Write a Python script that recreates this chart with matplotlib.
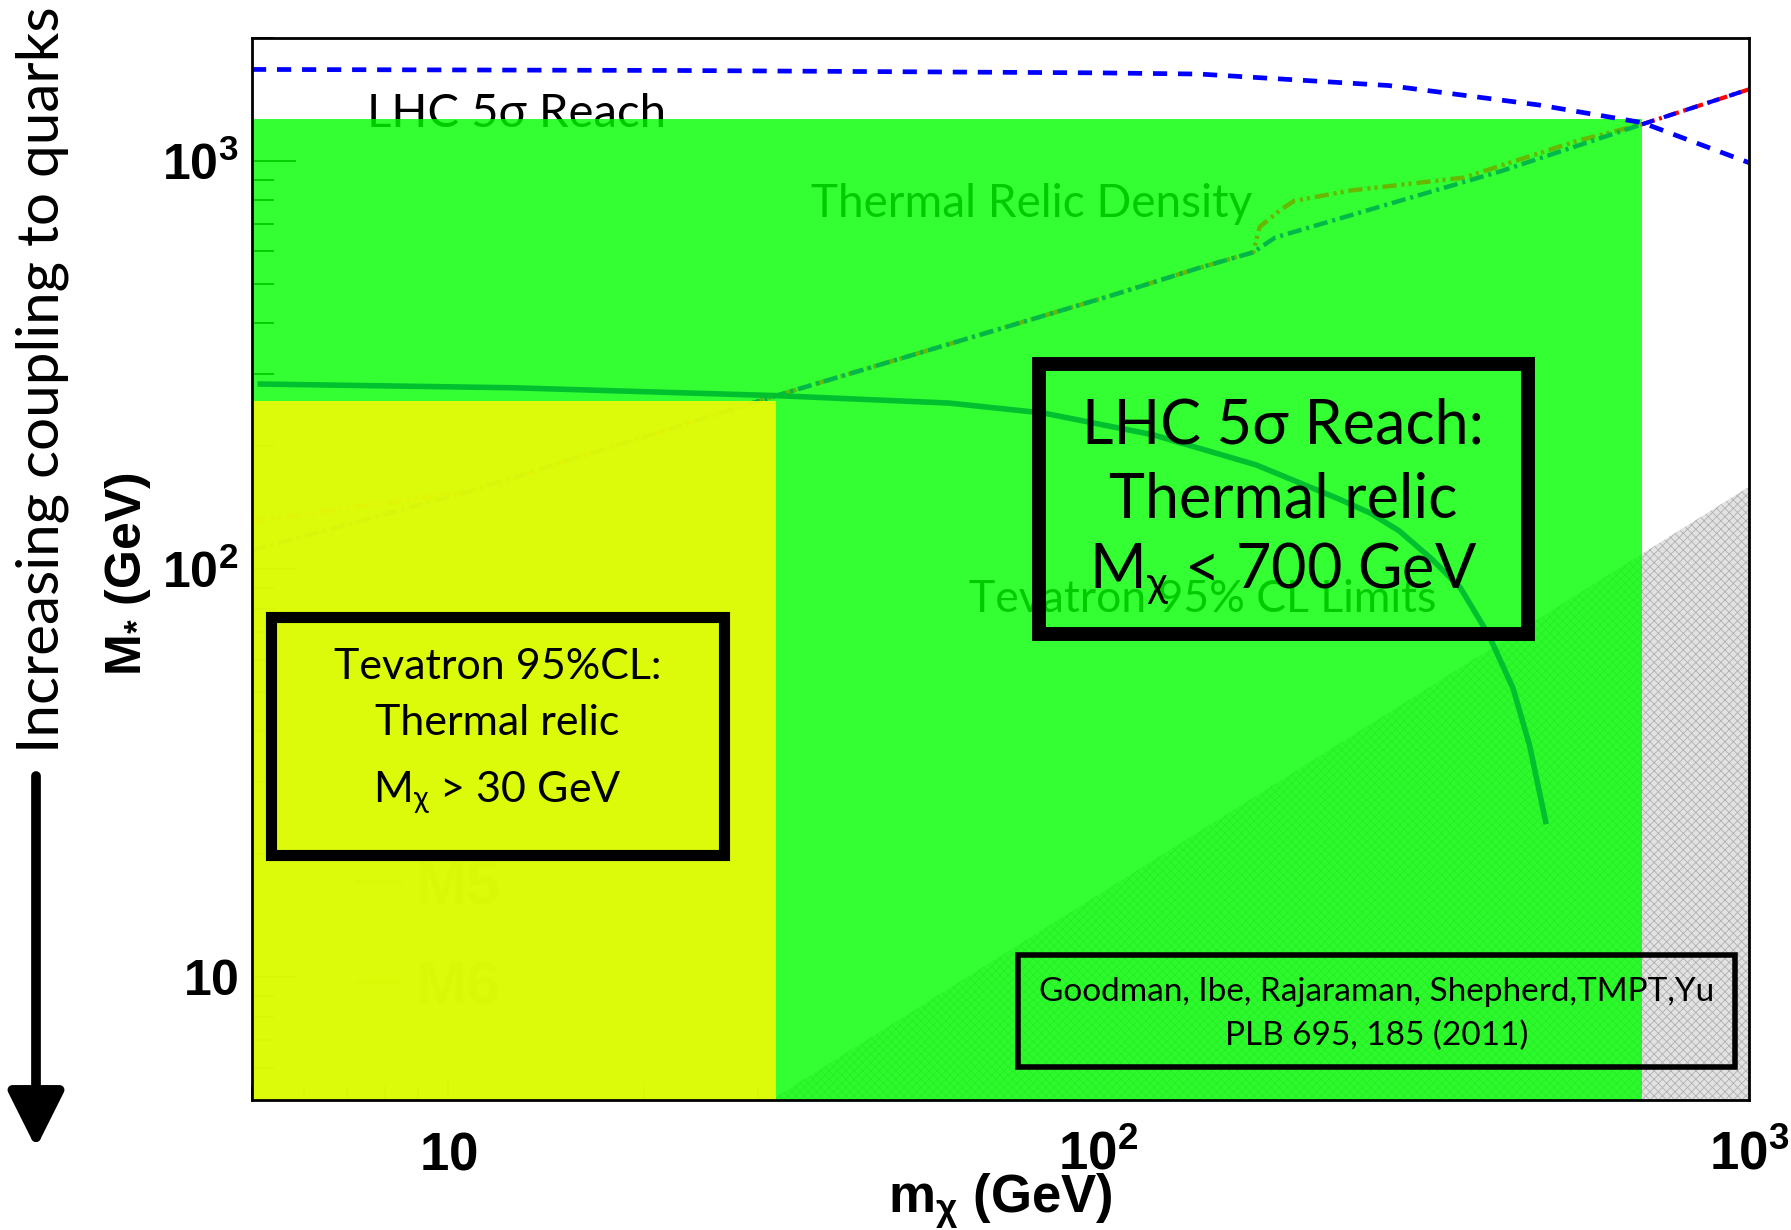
import matplotlib
matplotlib.use('Agg')
import matplotlib.pyplot as plt
from matplotlib.patches import Rectangle
from matplotlib.lines import Line2D
from matplotlib.ticker import FixedLocator, LogLocator, NullFormatter

plt.rcParams['hatch.linewidth'] = 0.6

# LHC 5 sigma reach (blue dashed)
reach_mx = [5, 23, 100, 143, 279, 475, 685, 1000]
reach_ms = [1675, 1665, 1643, 1632, 1530, 1371, 1241, 990]
reach2_mx = [685, 1000]
reach2_ms = [1229, 1497]

# thermal relic density curves
relic_a_mx = [5, 10.8, 32, 58.7, 105.7, 143, 173, 177, 190, 200, 244, 365, 544, 685]
relic_a_ms = [131, 155, 266, 355, 470, 547, 597, 689, 756, 798, 846, 910, 1119, 1229]
relic_b_mx = [5, 10.8, 32, 58.7, 105.7, 143, 173, 187, 279, 417, 685]
relic_b_ms = [111, 155, 266, 355, 470, 547, 597, 649, 783, 945, 1229]

# Tevatron 95% CL limit
tev_mx = [5.1, 12.6, 31.9, 59, 82.4, 121.7, 174.6, 233, 262, 290, 325, 360, 398, 434, 460, 488]
tev_ms = [284, 278, 266, 255, 241, 213, 180, 149, 137, 124, 106, 90, 69, 51, 37, 23.7]

# shaded regions
lhc_region_mx = [5, 685]
lhc_region_ms = [5, 1265]
tev_region_mx = [5, 32]
tev_region_ms = [5, 258]
eft_mx = [31.4, 1000]
eft_ms = [5, 159]

xticks = [10, 100, 1000]
xticklabels = [r'$\mathregular{10}$', r'$\mathregular{10^{2}}$', r'$\mathregular{10^{3}}$']
yticks = [10, 100, 1000]
yticklabels = [r'$\mathregular{10}$', r'$\mathregular{10^{2}}$', r'$\mathregular{10^{3}}$']

gill = ['Lato', 'DejaVu Sans']
narrow = ['Liberation Sans Narrow', 'Liberation Sans', 'DejaVu Sans']
helv = ['Liberation Sans', 'DejaVu Sans']

fig = plt.figure(figsize=(17.91, 12.30), dpi=100)
ax = fig.add_axes([0.1407, 0.1057, 0.8358, 0.8634])
ax.set_xscale('log')
ax.set_yscale('log')
ax.set_xlim(5, 1000)
ax.set_ylim(5, 2000)
ax.set_axisbelow(True)

# invalid EFT region (hatched)
ax.fill_between(eft_mx, [5, 5], eft_ms, facecolor='#e2e2e2', edgecolor='#b0b0b0',
                hatch='xxxx', linewidth=0, zorder=1)

# text lying under the green region
ax.text(0.177, 0.928, 'LHC 5σ Reach', transform=ax.transAxes, ha='center', va='center',
        fontsize=34, family=gill, color='black', zorder=1.5)
ax.text(0.521, 0.844, 'Thermal Relic Density', transform=ax.transAxes, ha='center',
        va='center', fontsize=33, family=gill, color='black', zorder=1.5)
ax.text(0.635, 0.471, 'Tevatron 95% CL Limits', transform=ax.transAxes, ha='center',
        va='center', fontsize=32, family=gill, color='black', zorder=1.5)

leg = ax.legend([Line2D([], [], color='#00a050', lw=3), Line2D([], [], color='#d08000', lw=3)],
                ['M5', 'M6'], loc='center left', bbox_to_anchor=(0.05, 0.152), frameon=False,
                borderpad=0, handlelength=0.7, handletextpad=0.25, labelspacing=0.72,
                prop={'family': helv, 'weight': 'bold', 'size': 44}, labelcolor='#303030')
leg.set_zorder(1.5)

# LHC reach region
ax.fill_between(lhc_region_mx, [lhc_region_ms[0]] * 2, [lhc_region_ms[1]] * 2,
                color=(0, 1, 0), alpha=0.8, linewidth=0, zorder=2)

ax.plot(relic_a_mx, relic_a_ms, color='#66b800', lw=3.2, dashes=(3.2, 1.1, 0.7, 0.9, 0.7, 1.1),
        zorder=3)
ax.plot(relic_b_mx, relic_b_ms, color='#00b84a', lw=3.2, dashes=(3.2, 1.1, 0.7, 1.1), zorder=3)
ax.plot(tev_mx, tev_ms, color='#00c030', lw=4, solid_capstyle='butt', zorder=3)
ax.plot(reach2_mx, reach2_ms, color='red', lw=3, dashes=(3.2, 1.1, 0.7, 1.1), zorder=3)
ax.plot(reach2_mx, reach2_ms, color='blue', lw=3, dashes=(3, 2.5), zorder=3.1)
ax.plot(reach_mx, reach_ms, color='blue', lw=3.4, dashes=(3, 2.3), zorder=3.2)

# Tevatron excluded region
ax.fill_between(tev_region_mx, [tev_region_ms[0]] * 2, [tev_region_ms[1]] * 2,
                color=(0.917, 0.983, 0.028), alpha=0.93, linewidth=0, zorder=4)

# boxed annotations
ax.add_patch(Rectangle((0.5255, 0.4385), 0.327, 0.255, transform=ax.transAxes, fill=False,
                       lw=10, edgecolor='black', zorder=6))
for txt, fy in [('LHC 5σ Reach:', 0.635), ('Thermal relic', 0.565),
                (r'M$_{\mathregular{χ}}$ < 700 GeV', 0.495)]:
    ax.text(0.689, fy, txt, transform=ax.transAxes, ha='center', va='center', fontsize=44,
            family=gill, color='black', zorder=7)

ax.add_patch(Rectangle((0.013, 0.231), 0.302, 0.224, transform=ax.transAxes, fill=False,
                       lw=8, edgecolor='black', zorder=6))
for txt, fy in [('Tevatron 95%CL:', 0.408), ('Thermal relic', 0.355),
                (r'M$_{\mathregular{χ}}$ > 30 GeV', 0.290)]:
    ax.text(0.164, fy, txt, transform=ax.transAxes, ha='center', va='center', fontsize=31,
            family=gill, color='black', zorder=7)

ax.add_patch(Rectangle((0.512, 0.0315), 0.479, 0.105, transform=ax.transAxes, fill=False,
                       lw=4, edgecolor='black', zorder=6))
ax.text(0.7515, 0.102, 'Goodman, Ibe, Rajaraman, Shepherd,TMPT,Yu', transform=ax.transAxes,
        ha='center', va='center', fontsize=24, family=gill, color='black', zorder=7)
ax.text(0.7515, 0.0605, 'PLB 695, 185 (2011)', transform=ax.transAxes,
        ha='center', va='center', fontsize=24, family=gill, color='black', zorder=7)

# axes styling
for sp in ax.spines.values():
    sp.set_linewidth(2)
    sp.set_zorder(10)

ax.xaxis.set_major_locator(FixedLocator(xticks))
ax.yaxis.set_major_locator(FixedLocator(yticks))
ax.xaxis.set_minor_locator(LogLocator(subs=range(2, 10)))
ax.yaxis.set_minor_locator(LogLocator(subs=range(2, 10)))
ax.xaxis.set_minor_formatter(NullFormatter())
ax.yaxis.set_minor_formatter(NullFormatter())
ax.set_xticklabels(xticklabels, fontsize=38, fontweight='bold', family=narrow)
ax.set_yticklabels(yticklabels, fontsize=36, fontweight='bold', family=helv)
ax.tick_params(which='both', direction='in', top=False, right=False, width=1.3)
ax.tick_params(axis='x', which='major', length=16, pad=50)
ax.tick_params(axis='x', which='minor', length=10)
ax.tick_params(axis='y', which='major', length=32, pad=10)
ax.tick_params(axis='y', which='minor', length=16)
plt.setp(ax.get_xticklabels(), va='baseline')

fig.text(0.5585, 0.0135, r'm$_{\mathregular{χ}}$ (GeV)', ha='center', va='baseline',
         fontsize=38, fontweight='bold', family=narrow)
fig.text(0.0715, 0.533, r'M$_{\mathregular{*}}$ (GeV)', ha='center', va='center', rotation=90,
         fontsize=36, fontweight='bold', family=helv)

fig.text(0.0235, 0.995, 'Increasing coupling to quarks', ha='center', va='top', rotation=90,
         fontsize=42, family=gill)
ax.annotate('', xy=(36, 1230 - 1148), xycoords='figure pixels',
            xytext=(36, 1230 - 776), textcoords='figure pixels',
            arrowprops=dict(arrowstyle='-|>,head_length=1.7,head_width=0.85', lw=7,
                            color='black', shrinkA=0, shrinkB=0, mutation_scale=20))

fig.savefig('out.png', dpi=100)
